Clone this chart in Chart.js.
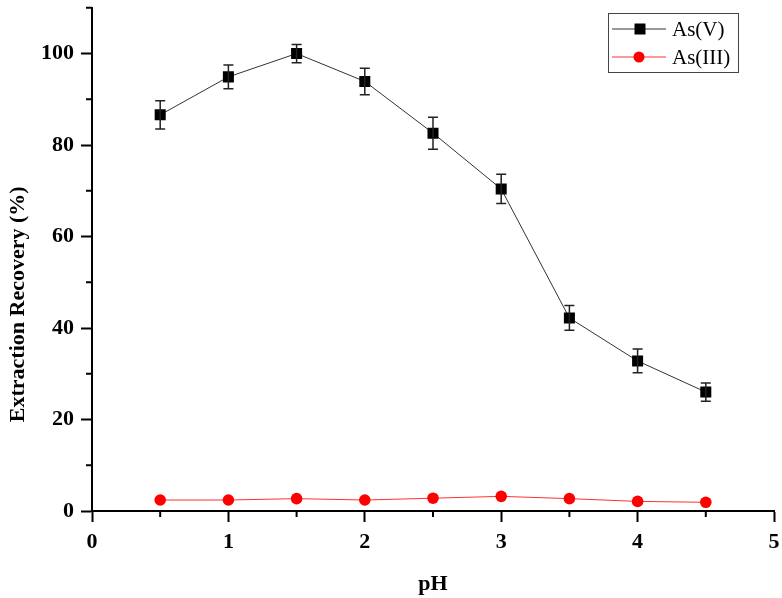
<!DOCTYPE html>
<html>
<head>
<meta charset="utf-8">
<script src="https://cdn.jsdelivr.net/npm/chart.js@4/dist/chart.umd.min.js"></script>
<style>
  html, body { margin: 0; padding: 0; background: #fff; }
  #wrap { width: 782px; height: 598px; }
</style>
</head>
<body>
<div id="wrap"><canvas id="myChart" width="782" height="598"></canvas></div>
<script>
// data
const phValues = [0.5, 1.0, 1.5, 2.0, 2.5, 3.0, 3.5, 4.0, 4.5];
const asV = [86.6, 94.9, 100.0, 93.9, 82.6, 70.4, 42.2, 32.8, 26.0];
const asVErr = [3.1, 2.6, 2.0, 2.9, 3.5, 3.2, 2.7, 2.6, 2.0];
const asIII = [2.4, 2.4, 2.7, 2.4, 2.8, 3.2, 2.7, 2.1, 1.9];
const xTicks = [0, 1, 2, 3, 4, 5];
const yTicks = [0, 20, 40, 60, 80, 100];
const yTitle = 'Extraction Recovery (%)';

const FONT = "'Liberation Serif', 'Times New Roman', serif";

function toPoints(xs, ys) {
    return xs.map(function(x, i) { return { x: x, y: ys[i] }; });
}

// error bars + minor ticks + y title + boxed legend
const extrasPlugin = {
    id: 'extras',
    afterDatasetsDraw(chart) {
        const ctx = chart.ctx;
        const xs = chart.scales.x, ys = chart.scales.y;
        ctx.save();
        ctx.strokeStyle = '#222';
        ctx.lineWidth = 1.5;
        phValues.forEach(function(x, i) {
            const px = xs.getPixelForValue(x);
            const top = ys.getPixelForValue(asV[i] + asVErr[i]);
            const bot = ys.getPixelForValue(asV[i] - asVErr[i]);
            ctx.beginPath();
            ctx.moveTo(px, top); ctx.lineTo(px, bot);
            ctx.moveTo(px - 5, top); ctx.lineTo(px + 5, top);
            ctx.moveTo(px - 5, bot); ctx.lineTo(px + 5, bot);
            ctx.stroke();
        });
        ctx.restore();
    },
    afterDraw(chart) {
        const ctx = chart.ctx;
        const xs = chart.scales.x, ys = chart.scales.y;
        const area = chart.chartArea;
        ctx.save();
        ctx.strokeStyle = '#000';
        ctx.lineWidth = 2;
        ctx.beginPath();
        for (let v = 0.5; v < 5; v += 1) {
            const px = xs.getPixelForValue(v);
            ctx.moveTo(px, area.bottom); ctx.lineTo(px, area.bottom + 6);
        }
        for (let v = 10; v <= 110; v += 20) {
            const py = ys.getPixelForValue(v);
            ctx.moveTo(area.left, py); ctx.lineTo(area.left - 6, py);
        }
        ctx.stroke();

        // y axis title (sits a little below the axis centre in the original)
        ctx.save();
        ctx.translate(18, ys.getPixelForValue(50) + 22);
        ctx.rotate(-Math.PI / 2);
        ctx.font = 'bold 22px ' + FONT;
        ctx.fillStyle = '#000';
        ctx.textAlign = 'center';
        ctx.textBaseline = 'middle';
        ctx.fillText(yTitle, 0, 0);
        ctx.restore();

        // legend box
        const lx = 608, ly = 13, lw = 130, lh = 59;
        ctx.lineWidth = 1;
        ctx.strokeStyle = '#444';
        ctx.strokeRect(lx + 0.5, ly + 0.5, lw, lh);
        ctx.font = '21px ' + FONT;
        ctx.textBaseline = 'middle';
        chart.data.datasets.forEach(function(ds, i) {
            const cy = ly + 16 + i * 28;
            ctx.strokeStyle = ds.borderColor;
            ctx.lineWidth = 1;
            ctx.beginPath();
            ctx.moveTo(lx + 4, cy); ctx.lineTo(lx + 58, cy);
            ctx.stroke();
            ctx.fillStyle = ds.pointBackgroundColor;
            if (ds.pointStyle === 'rect') {
                ctx.fillRect(lx + 32 - 5.5, cy - 5.5, 11, 11);
            } else {
                ctx.beginPath();
                ctx.arc(lx + 31, cy, 5.5, 0, Math.PI * 2);
                ctx.fill();
            }
            ctx.fillStyle = '#000';
            ctx.fillText(ds.label, lx + 64, cy + 1);
        });
        ctx.restore();
    }
};

const ctx = document.getElementById('myChart').getContext('2d');
const myChart = new Chart(ctx, {
    type: 'line',
    data: {
        datasets: [{
            label: 'As(V)',
            data: toPoints(phValues, asV),
            borderColor: '#333',
            borderWidth: 1,
            pointStyle: 'rect',
            pointRadius: 7.8,
            pointBorderWidth: 0,
            pointBackgroundColor: '#000',
            tension: 0
        }, {
            label: 'As(III)',
            data: toPoints(phValues, asIII),
            borderColor: '#ff3030',
            borderWidth: 1,
            pointStyle: 'circle',
            pointRadius: 5.8,
            pointBorderWidth: 0,
            pointBackgroundColor: '#ff0000',
            tension: 0
        }]
    },
    options: {
        responsive: false,
        animation: false,
        layout: { padding: { left: 0, right: 8, top: 6, bottom: 0 } },
        plugins: {
            legend: { display: false },
            tooltip: { enabled: false }
        },
        scales: {
            x: {
                type: 'linear',
                min: 0, max: 5,
                afterBuildTicks(scale) { scale.ticks = xTicks.map(function(v) { return { value: v }; }); },
                afterFit(scale) {
                    scale.height = 87;
                    scale.paddingLeft = 0;
                    scale.paddingRight = 0;
                },
                border: { color: '#000', width: 2 },
                grid: { drawOnChartArea: false, tickLength: 11, tickColor: '#000', tickWidth: 2 },
                ticks: {
                    color: '#000',
                    padding: 7,
                    font: { family: FONT, size: 22, weight: 'bold' }
                },
                title: {
                    display: true, text: 'pH', color: '#000',
                    padding: { top: 12, bottom: 0 },
                    font: { family: FONT, size: 22, weight: 'bold' }
                }
            },
            y: {
                min: 0, max: 110,
                afterBuildTicks(scale) { scale.ticks = yTicks.map(function(v) { return { value: v }; }); },
                afterFit(scale) {
                    scale.width = 92;
                    scale.paddingTop = 0;
                    scale.paddingBottom = 0;
                },
                border: { color: '#000', width: 2 },
                grid: { drawOnChartArea: false, tickLength: 11, tickColor: '#000', tickWidth: 2 },
                ticks: {
                    color: '#000',
                    padding: 7,
                    font: { family: FONT, size: 22, weight: 'bold' }
                }
            }
        }
    },
    plugins: [extrasPlugin]
});
</script>
</body>
</html>
